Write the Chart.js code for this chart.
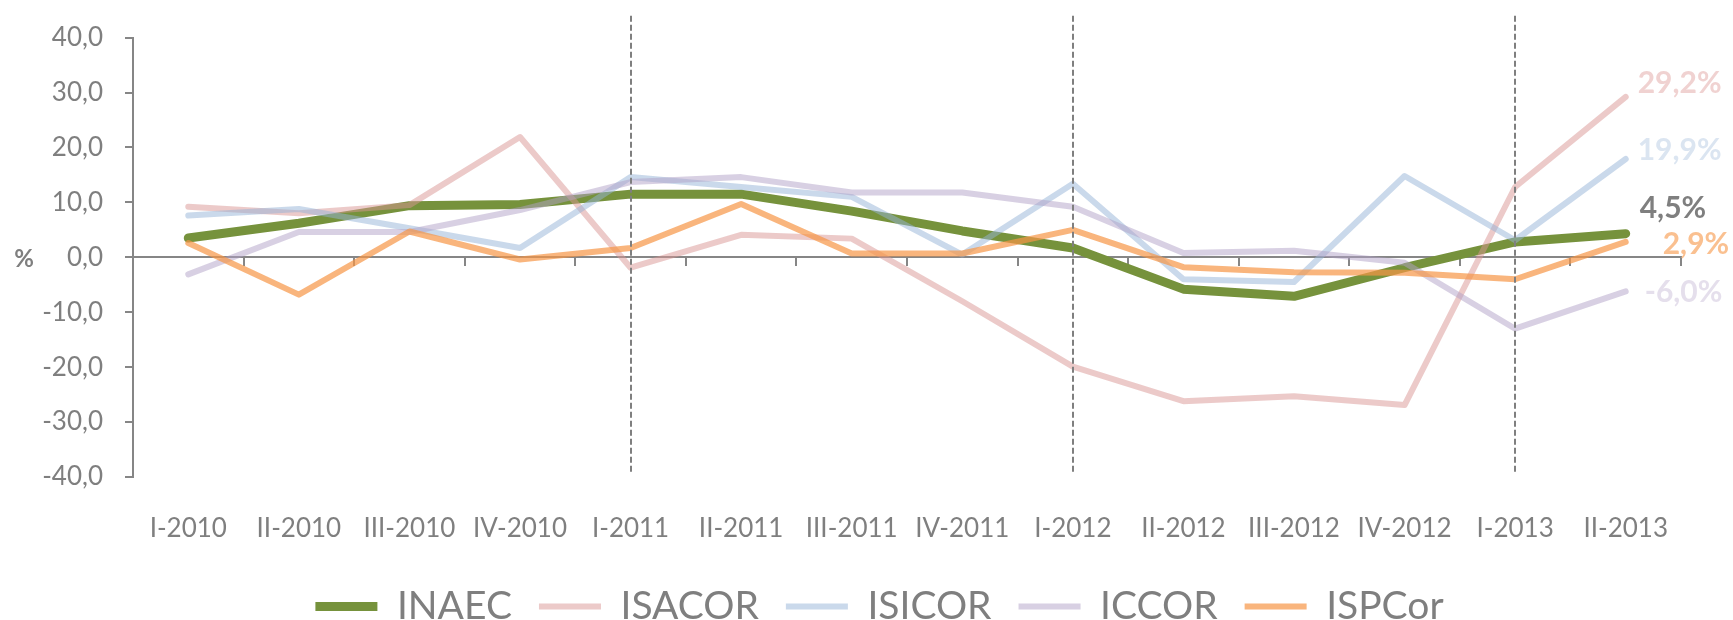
<!DOCTYPE html>
<html>
<head>
<meta charset="utf-8">
<script src="https://cdn.jsdelivr.net/npm/chart.js@4.4.1/dist/chart.umd.min.js"></script>
<style>
  html, body { margin: 0; padding: 0; background: #fff; }
  #wrap { width: 1733px; height: 620px; position: relative; }
</style>
</head>
<body>
<div id="wrap"><canvas id="indicesChart"></canvas></div>
<script>
const quarters = ['I-2010', 'II-2010', 'III-2010', 'IV-2010', 'I-2011', 'II-2011', 'III-2011',
  'IV-2011', 'I-2012', 'II-2012', 'III-2012', 'IV-2012', 'I-2013', 'II-2013'];

const inaec  = [3.5, 6.2, 9.4, 9.6, 11.5, 11.5, 8.4, 4.8, 1.7, -5.8, -7.1, -1.9, 2.8, 4.3];
const isacor = [9.2, 8.0, 9.5, 21.9, -1.9, 4.1, 3.4, -8.0, -19.9, -26.2, -25.3, -26.9, 12.8, 29.2];
const isicor = [7.6, 8.8, 5.3, 1.7, 14.6, 12.8, 11.0, 0.5, 13.4, -4.0, -4.5, 14.8, 3.1, 17.9];
const iccor  = [-3.1, 4.6, 4.6, 8.6, 13.7, 14.6, 11.8, 11.8, 9.2, 0.8, 1.2, -1.0, -13.0, -6.2];
const ispcor = [2.6, -6.8, 4.7, -0.4, 1.7, 9.7, 0.7, 0.7, 5.0, -1.8, -2.7, -2.8, -4.0, 2.8];

const seriesNames = ['INAEC', 'ISACOR', 'ISICOR', 'ICCOR', 'ISPCor'];
const endLabels = ['4,5%', '29,2%', '19,9%', '-6,0%', '2,9%'];
const yTickValues = [-40, -30, -20, -10, 0, 10, 20, 30, 40];
const yearMarks = ['I-2011', 'I-2012', 'I-2013'];

const FONT = "Lato, 'Open Sans', sans-serif";
const GREY = '#7f7f7f';
const AXIS = '#868686';

// colour, width, end-label colour and its offset from the last point
const styles = [
  { color: 'rgb(118,146,60)',        width: 9, label: '#7f7f7f', dx: 14, dy: -25 },
  { color: 'rgba(217,150,148,0.5)',  width: 6, label: '#f0d2d1', dx: 12, dy: -14 },
  { color: 'rgba(149,179,215,0.5)',  width: 6, label: '#dbe5f1', dx: 12, dy: -9 },
  { color: 'rgba(178,161,199,0.5)',  width: 6, label: '#e5dfec', dx: 19, dy: 1 },
  { color: 'rgba(247,150,70,0.7)',   width: 6, label: '#fac090', dx: 37, dy: 2 }
];
const values = [inaec, isacor, isicor, iccor, ispcor];

const datasets = seriesNames.map((name, i) => ({
  label: name,
  data: values[i],
  borderColor: styles[i].color,
  backgroundColor: styles[i].color,
  borderWidth: styles[i].width,
  borderCapStyle: 'round',
  borderJoinStyle: 'round',
  pointRadius: 0,
  tension: 0,
  order: seriesNames.length - i,
  xAxisID: 'x',
  yAxisID: 'y'
}));

const extras = {
  id: 'extras',
  afterLayout(chart) {
    // legend sits a bit right of the canvas centre in the original
    chart.legend.left += 24;
    chart.legend.right += 24;
  },
  afterDatasetsDraw(chart) {
    const { ctx, scales: { x, y } } = chart;
    ctx.save();
    // dashed year separators
    ctx.strokeStyle = GREY;
    ctx.lineWidth = 2;
    ctx.setLineDash([6, 3]);
    yearMarks.forEach(q => {
      const px = Math.round(x.getPixelForValue(quarters.indexOf(q)));
      ctx.beginPath();
      ctx.moveTo(px, y.getPixelForValue(44));
      ctx.lineTo(px, y.getPixelForValue(-39.5));
      ctx.stroke();
    });
    ctx.setLineDash([]);
    // last-value labels
    ctx.font = 'bold 30px ' + FONT;
    ctx.textAlign = 'left';
    ctx.textBaseline = 'middle';
    chart.data.datasets.forEach((ds, i) => {
      const pts = chart.getDatasetMeta(i).data;
      const p = pts[pts.length - 1];
      ctx.fillStyle = styles[i].label;
      ctx.fillText(endLabels[i], p.x + styles[i].dx, p.y + styles[i].dy);
    });
    // unit label
    ctx.font = 'bold 24px ' + FONT;
    ctx.fillStyle = GREY;
    ctx.textAlign = 'center';
    ctx.fillText('%', 24, y.getPixelForValue(0) + 2);
    ctx.restore();
  }
};

new Chart(document.getElementById('indicesChart'), {
  type: 'line',
  data: { labels: quarters, datasets: datasets },
  plugins: [extras],
  options: {
    responsive: true,
    maintainAspectRatio: false,
    animation: false,
    events: [],
    layout: { padding: { top: 35, right: 52, bottom: -16, left: 30 } },
    scales: {
      y: {
        min: -40,
        max: 40,
        afterBuildTicks: s => { s.ticks = yTickValues.map(v => ({ value: v })); },
        afterFit: s => { s.width = 103; },
        border: { color: AXIS, width: 2 },
        grid: { drawOnChartArea: false, tickLength: 8, color: AXIS, lineWidth: 2 },
        ticks: {
          padding: 22,
          color: GREY,
          font: { family: FONT, size: 26 },
          callback: v => v.toFixed(1).replace('.', ',')
        }
      },
      x: {
        type: 'category',
        position: 'bottom',
        offset: true,
        afterFit: s => { s.height = 83; },
        border: { display: false },
        grid: { display: false, drawTicks: false },
        ticks: {
          padding: 36,
          color: GREY,
          maxRotation: 0,
          autoSkip: false,
          font: { family: FONT, size: 26 }
        }
      },
      x0: {
        type: 'category',
        axis: 'x',
        position: { y: 0 },
        offset: true,
        border: { color: AXIS, width: 2 },
        grid: { offset: true, drawOnChartArea: false, tickLength: 8, color: AXIS, lineWidth: 2 },
        ticks: { display: false }
      }
    },
    plugins: {
      tooltip: { enabled: false },
      legend: {
        position: 'bottom',
        labels: {
          usePointStyle: true,
          pointStyle: 'line',
          pointStyleWidth: 62,
          padding: 27,
          color: GREY,
          font: { family: FONT, size: 39 },
          sort: (a, b) => a.datasetIndex - b.datasetIndex
        }
      }
    }
  }
});
</script>
</body>
</html>
